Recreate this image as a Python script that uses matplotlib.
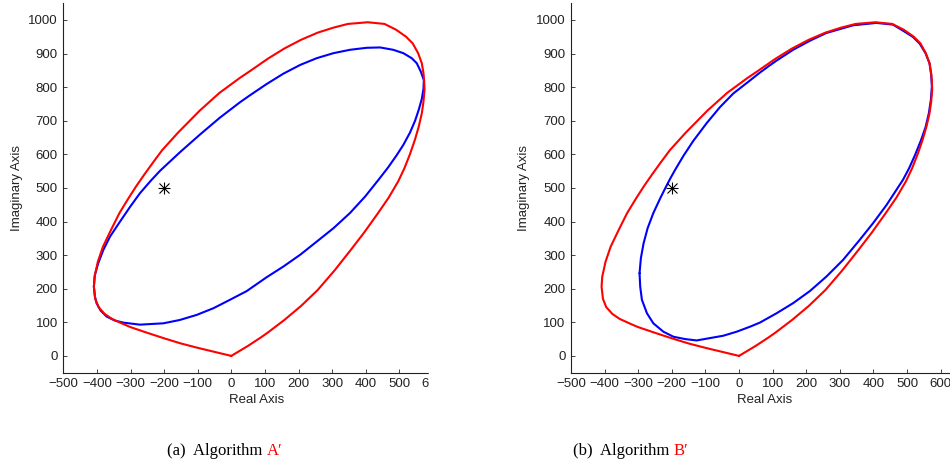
import matplotlib.pyplot as plt
from matplotlib.patches import Rectangle

# outer (red) curve, same in both panels
env_x = [0, 50, 88, 108, 158, 208, 257, 307, 356, 396, 436, 469, 497, 515, 532, 547,
         558, 567, 572, 575, 574, 572, 567, 556, 540, 520, 490, 456, 406, 347, 304,
         257, 208, 158, 108, 59, 25, -35, -94, -159, -206, -232, -258, -283, -308,
         -333, -358, -382, -397, -407, -409, -405, -395, -377, -355, -322, -301,
         -254, -199, -150, -100, -50, 0]
env_y = [0, 30, 55, 69, 107, 149, 196, 254, 316, 368, 424, 472, 520, 558, 601, 645,
         683, 722, 757, 792, 818, 841, 871, 901, 930, 950, 971, 988, 993, 988, 977,
         962, 941, 915, 884, 850, 827, 783, 730, 664, 612, 577, 541, 505, 466,
         425, 375, 325, 281, 236, 206, 170, 145, 125, 110, 95, 86,
         70, 52, 37, 24, 12, 0]

# inner (blue) curve, algorithm A'
a_x = [-409, -406, -401, -389, -371, -346, -321, -272, -202, -153, -103, -53, -4, 46,
       105, 155, 205, 254, 304, 353, 398, 438, 466, 492, 512, 532, 547, 558, 567, 572,
       573, 564, 552, 537, 512, 482, 443, 403, 353, 304, 254, 205, 155, 105, 56, 26,
       -34, -93, -153, -212, -240, -272, -301, -331, -361, -381, -396, -406, -409]
a_y = [206, 177, 157, 135, 117, 105, 99, 93, 97, 107, 122, 142, 167, 193,
       234, 266, 301, 340, 380, 425, 474, 524, 560, 597, 628, 665, 700, 733, 765, 795,
       821, 846, 871, 886, 901, 911, 918, 917, 911, 901, 886, 866, 840, 809, 776, 755,
       709, 659, 606, 551, 521, 484, 444, 400, 355, 315, 276, 241, 206]

# inner (blue) curve, algorithm B'
b_x = [-296, -294, -289, -274, -255, -225, -195, -160, -126, -47, -7, 33, 62, 112, 161,
       211, 260, 310, 359, 399, 439, 488, 506, 524, 541, 555, 565, 571, 574, 572, 567,
       555, 538, 518, 488, 458, 409, 340, 260, 211, 161, 112, 92, 62, 33, -17, -57,
       -96, -136, -165, -190, -205, -219, -234, -255, -272, -284, -292, -296]
b_y = [246, 206, 167, 127, 97, 72, 57, 50, 46, 60, 72, 87, 99, 127, 157,
       193, 236, 286, 345, 395, 449, 524, 558, 598, 640, 680, 722, 762, 802, 836, 871,
       901, 929, 949, 968, 986, 991, 984, 961, 938, 911, 879, 865, 843, 820, 781, 740,
       693, 640, 596, 554, 527, 500, 470, 425, 380, 335, 291, 246]

star = (-200, 500)
xticks = list(range(-500, 700, 100))
yticks = list(range(0, 1100, 100))

plt.rcParams['font.family'] = ['Liberation Sans', 'DejaVu Sans']
W, H = 950, 466
fig = plt.figure(figsize=(W / 100, H / 100), dpi=100)


def panel(left_px, inner_x, inner_y):
    ax = fig.add_axes([left_px / W, 93.3 / H, 386.4 / W, 369.6 / H])
    style = dict(lw=1.5, solid_joinstyle='round', solid_capstyle='round')
    ax.plot(inner_x, inner_y, color='#0000ff', **style)
    ax.plot(env_x, env_y, color='#ff0000', **style)
    ax.plot(*star, marker='+', color='black', ms=9, mew=0.8)
    ax.plot(*star, marker='x', color='black', ms=6.5, mew=0.8)
    ax.set_xlim(-500, 650)
    ax.set_ylim(-50, 1050)
    ax.set_xticks(xticks)
    ax.set_yticks(yticks)
    ax.spines['top'].set_visible(False)
    ax.spines['right'].set_visible(False)
    for s in ('left', 'bottom'):
        ax.spines[s].set_linewidth(0.8)
        ax.spines[s].set_color('#222222')
    ax.tick_params(direction='in', length=3, width=0.6, labelsize=9.5, pad=4,
                   colors='#222222')
    ax.set_xlabel('Real Axis', fontsize=9.5, labelpad=3, color='#222222')
    ax.set_ylabel('Imaginary Axis', fontsize=9.5, labelpad=4, color='#222222')
    return ax


ax1 = panel(63.3, a_x, a_y)
ax2 = panel(571, b_x, b_y)

# the left sub-figure is cropped on its right side
fig.add_artist(Rectangle((428.5 / W, 60 / H), (508 - 428.5) / W, 1 - 60 / H,
                         transform=fig.transFigure, color='white', zorder=5))

serif = ['Liberation Serif', 'DejaVu Serif']
fig.canvas.draw()
renderer = fig.canvas.get_renderer()
for x0, lab, alg in [(167, '(a)  Algorithm ', 'A\u2032'), (573, '(b)  Algorithm ', 'B\u2032')]:
    t = fig.text(x0 / W, 11 / H, lab, family=serif, fontsize=12, va='baseline')
    bb = t.get_window_extent(renderer)
    fig.text(bb.x1 / W, 11 / H, alg, family=serif, fontsize=12, va='baseline',
             color='#ff0000')

fig.savefig('out.png', dpi=100)
